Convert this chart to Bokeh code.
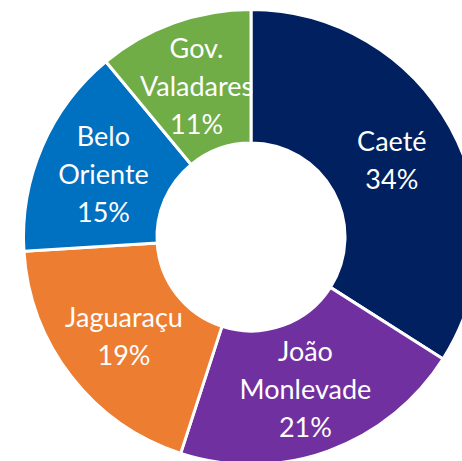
import numpy as np
from bokeh.plotting import figure
from bokeh.models import Range1d, ColumnDataSource
from bokeh.core.properties import value
from bokeh.embed import file_html
from bokeh.resources import INLINE

labels = ["Caeté", "João\nMonlevade", "Jaguaraçu", "Belo\nOriente", "Gov.\nValadares"]
shares = [34, 21, 19, 15, 11]
colors = ["#002060", "#7030A0", "#ED7D31", "#0070C0", "#70AD47"]

cx, cy = 250.5, -236.5
r_in, r_out = 94, 227.5

vals = np.array(shares, dtype=float)
frac = vals / vals.sum()
cum = np.concatenate([[0], np.cumsum(frac)])
start = np.pi / 2 - 2 * np.pi * cum[:-1]
end = np.pi / 2 - 2 * np.pi * cum[1:]
mid = (start + end) / 2
r_lab = (r_in + r_out) / 2

src = ColumnDataSource(dict(
    start=start, end=end, color=colors,
    lx=cx + r_lab * np.cos(mid), ly=cy + r_lab * np.sin(mid),
    txt=[f"{l}\n{s}%" for l, s in zip(labels, shares)],
))

p = figure(width=462, height=461, output_backend="svg", toolbar_location=None,
           x_range=Range1d(0, 462), y_range=Range1d(-461, 0),
           min_border=0, outline_line_color=None)
p.axis.visible = False
p.grid.visible = False

p.annular_wedge(x=cx, y=cy, inner_radius=r_in, outer_radius=r_out,
                start_angle="start", end_angle="end", direction="clock",
                fill_color="color", line_color="white", line_width=3, source=src)

p.text(x="lx", y="ly", text="txt", source=src, text_color="white",
       text_font=value("Lato"), text_font_size="27px", text_align="center",
       text_baseline="middle", text_line_height=1.15)

open("out.html", "w").write(file_html(p, INLINE))
